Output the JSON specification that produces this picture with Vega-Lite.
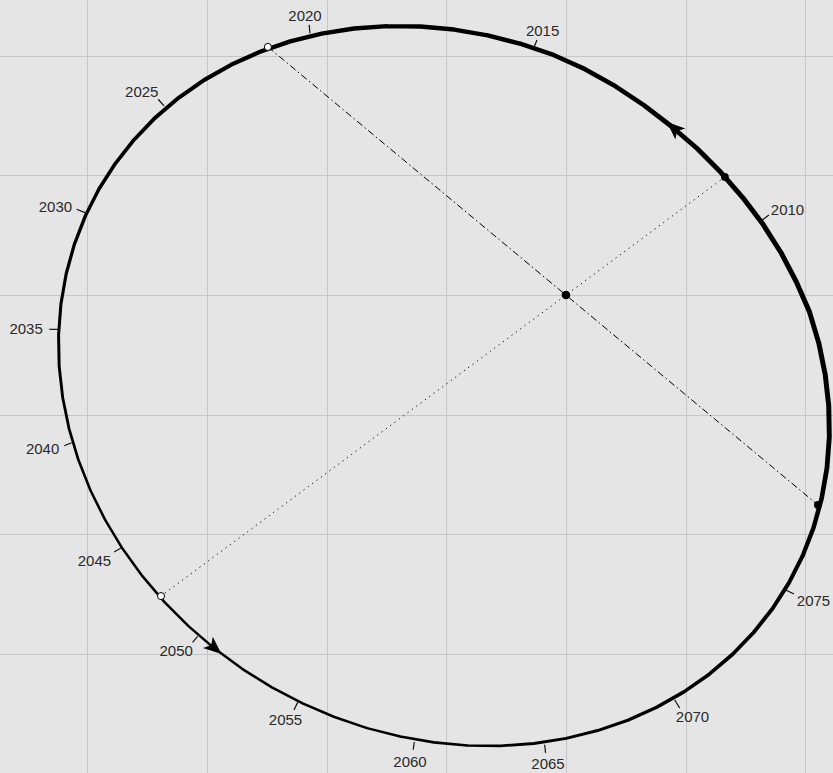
{
  "$schema": "https://vega.github.io/schema/vega-lite/v6.json",
  "width": 833,
  "height": 773,
  "autosize": {"type": "fit", "contains": "padding"},
  "padding": 0,
  "background": "#e5e5e5",
  "config": {
    "view": {"stroke": null},
    "axis": {"grid": true, "gridColor": "#c6c6c6", "gridWidth": 1, "labels": false, "ticks": false, "domain": false, "title": null}
  },
  "datasets": {
    "orbit": [
      {"i":0,"x":1.8628,"y":-2.4054,"weight":0.80},
      {"i":1,"x":1.7265,"y":-2.6185,"weight":0.78},
      {"i":2,"x":1.5694,"y":-2.8176,"weight":0.76},
      {"i":3,"x":1.3926,"y":-3.0010,"weight":0.74},
      {"i":4,"x":1.1974,"y":-3.1673,"weight":0.72},
      {"i":5,"x":0.9854,"y":-3.3153,"weight":0.70},
      {"i":6,"x":0.7580,"y":-3.4439,"weight":0.68},
      {"i":7,"x":0.5172,"y":-3.5520,"weight":0.65},
      {"i":8,"x":0.2646,"y":-3.6389,"weight":0.62},
      {"i":9,"x":0.0024,"y":-3.7038,"weight":0.60},
      {"i":10,"x":-0.2677,"y":-3.7464,"weight":0.58},
      {"i":11,"x":-0.5435,"y":-3.7663,"weight":0.56},
      {"i":12,"x":-0.8229,"y":-3.7632,"weight":0.54},
      {"i":13,"x":-1.1038,"y":-3.7373,"weight":0.52},
      {"i":14,"x":-1.3841,"y":-3.6888,"weight":0.51},
      {"i":15,"x":-1.6616,"y":-3.6179,"weight":0.50},
      {"i":16,"x":-1.9342,"y":-3.5254,"weight":0.50},
      {"i":17,"x":-2.1998,"y":-3.4117,"weight":0.50},
      {"i":18,"x":-2.4565,"y":-3.2779,"weight":0.50},
      {"i":19,"x":-2.7022,"y":-3.1249,"weight":0.50},
      {"i":20,"x":-2.9352,"y":-2.9540,"weight":0.50},
      {"i":21,"x":-3.1534,"y":-2.7663,"weight":0.50},
      {"i":22,"x":-3.3555,"y":-2.5634,"weight":0.50},
      {"i":23,"x":-3.5398,"y":-2.3467,"weight":0.50},
      {"i":24,"x":-3.7049,"y":-2.1180,"weight":0.50},
      {"i":25,"x":-3.8497,"y":-1.8789,"weight":0.50},
      {"i":26,"x":-3.9727,"y":-1.6314,"weight":0.51},
      {"i":27,"x":-4.0734,"y":-1.3772,"weight":0.53},
      {"i":28,"x":-4.1508,"y":-1.1183,"weight":0.55},
      {"i":29,"x":-4.2044,"y":-0.8566,"weight":0.57},
      {"i":30,"x":-4.2338,"y":-0.5943,"weight":0.59},
      {"i":31,"x":-4.2386,"y":-0.3331,"weight":0.60},
      {"i":32,"x":-4.2190,"y":-0.0753,"weight":0.62},
      {"i":33,"x":-4.1750,"y":0.1774,"weight":0.64},
      {"i":34,"x":-4.1070,"y":0.4228,"weight":0.66},
      {"i":35,"x":-4.0155,"y":0.6593,"weight":0.68},
      {"i":36,"x":-3.9012,"y":0.8850,"weight":0.70},
      {"i":37,"x":-3.7649,"y":1.0981,"weight":0.72},
      {"i":38,"x":-3.6078,"y":1.2972,"weight":0.75},
      {"i":39,"x":-3.4310,"y":1.4806,"weight":0.78},
      {"i":40,"x":-3.2358,"y":1.6469,"weight":0.80},
      {"i":41,"x":-3.0238,"y":1.7949,"weight":0.82},
      {"i":42,"x":-2.7964,"y":1.9235,"weight":0.84},
      {"i":43,"x":-2.5556,"y":2.0316,"weight":0.85},
      {"i":44,"x":-2.3030,"y":2.1185,"weight":0.86},
      {"i":45,"x":-2.0408,"y":2.1834,"weight":0.86},
      {"i":46,"x":-1.7707,"y":2.2260,"weight":0.87},
      {"i":47,"x":-1.4949,"y":2.2459,"weight":0.88},
      {"i":48,"x":-1.2155,"y":2.2428,"weight":0.88},
      {"i":49,"x":-0.9346,"y":2.2169,"weight":0.89},
      {"i":50,"x":-0.6543,"y":2.1684,"weight":0.90},
      {"i":51,"x":-0.3768,"y":2.0975,"weight":0.90},
      {"i":52,"x":-0.1042,"y":2.0050,"weight":0.91},
      {"i":53,"x":0.1590,"y":1.8860,"weight":0.92},
      {"i":54,"x":0.4109,"y":1.7449,"weight":0.93},
      {"i":55,"x":0.6503,"y":1.5856,"weight":0.94},
      {"i":56,"x":0.8776,"y":1.4117,"weight":0.96},
      {"i":57,"x":1.0937,"y":1.2258,"weight":0.97},
      {"i":58,"x":1.2937,"y":1.0250,"weight":0.98},
      {"i":59,"x":1.4787,"y":0.8120,"weight":1.0},
      {"i":60,"x":1.6477,"y":0.5881,"weight":1.0},
      {"i":61,"x":1.7971,"y":0.3529,"weight":1.0},
      {"i":62,"x":1.9254,"y":0.1084,"weight":1.0},
      {"i":63,"x":2.0350,"y":-0.1432,"weight":1.0},
      {"i":64,"x":2.1124,"y":-0.4021,"weight":1.0},
      {"i":65,"x":2.1660,"y":-0.6638,"weight":1.0},
      {"i":66,"x":2.1954,"y":-0.9261,"weight":1.0},
      {"i":67,"x":2.2002,"y":-1.1873,"weight":0.98},
      {"i":68,"x":2.1806,"y":-1.4451,"weight":0.96},
      {"i":69,"x":2.1366,"y":-1.6978,"weight":0.92},
      {"i":70,"x":2.0686,"y":-1.9432,"weight":0.88},
      {"i":71,"x":1.9771,"y":-2.1797,"weight":0.84},
      {"i":72,"x":1.8628,"y":-2.4054,"weight":0.80}
    ],
    "years": [
      {"year":"2010","x":1.625,"y":0.615,"x2":1.696,"y2":0.668,"lx":1.851,"ly":0.710},
      {"year":"2015","x":-0.270,"y":2.061,"x2":-0.242,"y2":2.130,"lx":-0.195,"ly":2.208},
      {"year":"2020","x":-2.139,"y":2.186,"x2":-2.145,"y2":2.256,"lx":-2.180,"ly":2.333},
      {"year":"2025","x":-3.358,"y":1.579,"x2":-3.406,"y2":1.635,"lx":-3.544,"ly":1.698},
      {"year":"2030","x":-4.018,"y":0.688,"x2":-4.088,"y2":0.716,"lx":-4.265,"ly":0.733},
      {"year":"2035","x":-4.241,"y":-0.287,"x2":-4.317,"y2":-0.287,"lx":-4.510,"ly":-0.287},
      {"year":"2040","x":-4.130,"y":-1.234,"x2":-4.191,"y2":-1.259,"lx":-4.372,"ly":-1.284},
      {"year":"2045","x":-3.707,"y":-2.108,"x2":-3.774,"y2":-2.147,"lx":-3.939,"ly":-2.220},
      {"year":"2050","x":-3.077,"y":-2.851,"x2":-3.119,"y2":-2.901,"lx":-3.256,"ly":-2.977},
      {"year":"2055","x":-2.241,"y":-3.403,"x2":-2.272,"y2":-3.467,"lx":-2.343,"ly":-3.553},
      {"year":"2060","x":-1.267,"y":-3.734,"x2":-1.276,"y2":-3.799,"lx":-1.303,"ly":-3.901},
      {"year":"2065","x":-0.178,"y":-3.757,"x2":-0.170,"y2":-3.826,"lx":-0.150,"ly":-3.918},
      {"year":"2070","x":0.908,"y":-3.381,"x2":0.950,"y2":-3.450,"lx":1.057,"ly":-3.525},
      {"year":"2075","x":1.832,"y":-2.462,"x2":1.905,"y2":-2.498,"lx":2.068,"ly":-2.559}
    ],
    "chords": [
      {"kind":"dashdot","x":-2.490,"y":2.072,"x2":2.105,"y2":-1.754},
      {"kind":"dotted","x":1.328,"y":0.986,"x2":-3.383,"y2":-2.515}
    ],
    "points": [
      {"kind":"centre","x":0,"y":0},
      {"kind":"filled","x":2.105,"y":-1.754},
      {"kind":"filled","x":1.328,"y":0.986},
      {"kind":"open","x":-2.490,"y":2.072},
      {"kind":"open","x":-3.383,"y":-2.515}
    ],
    "arrows": [
      {"x":0.906,"y":1.389,"heading":311.6},
      {"x":-2.941,"y":-2.945,"heading":130.9}
    ]
  },
  "encoding": {
    "x": {"field": "x", "type": "quantitative", "scale": {"domain": [-4.728, 2.231], "nice": false, "zero": false}, "axis": {"values": [-4, -3, -2, -1, 0, 1, 2]}},
    "y": {"field": "y", "type": "quantitative", "scale": {"domain": [-3.993, 2.464], "nice": false, "zero": false}, "axis": {"values": [-3, -2, -1, 0, 1, 2]}}
  },
  "layer": [
    {
      "data": {"name": "chords"},
      "transform": [{"filter": "datum.kind === 'dashdot'"}],
      "mark": {"type": "rule", "color": "#000000", "strokeWidth": 1, "strokeDash": [7, 3, 1.5, 3]},
      "encoding": {"x2": {"field": "x2"}, "y2": {"field": "y2"}}
    },
    {
      "data": {"name": "chords"},
      "transform": [{"filter": "datum.kind === 'dotted'"}],
      "mark": {"type": "rule", "color": "#000000", "strokeWidth": 1, "strokeDash": [1.2, 4.2]},
      "encoding": {"x2": {"field": "x2"}, "y2": {"field": "y2"}}
    },
    {
      "data": {"name": "orbit"},
      "mark": {"type": "trail", "color": "#000000"},
      "encoding": {
        "order": {"field": "i", "type": "quantitative"},
        "size": {"field": "weight", "type": "quantitative", "scale": {"domain": [0, 1], "range": [0, 5]}, "legend": null}
      }
    },
    {
      "data": {"name": "years"},
      "mark": {"type": "rule", "color": "#111111", "strokeWidth": 1.2},
      "encoding": {"x2": {"field": "x2"}, "y2": {"field": "y2"}}
    },
    {
      "data": {"name": "years"},
      "mark": {"type": "text", "font": "Liberation Sans", "fontSize": 15, "color": "#2a2a2a", "align": "center", "baseline": "middle"},
      "encoding": {
        "x": {"field": "lx", "type": "quantitative"},
        "y": {"field": "ly", "type": "quantitative"},
        "text": {"field": "year"}
      }
    },
    {
      "data": {"name": "points"},
      "transform": [{"filter": "datum.kind === 'centre'"}],
      "mark": {"type": "point", "shape": "circle", "filled": true, "color": "#000000", "size": 75, "opacity": 1}
    },
    {
      "data": {"name": "points"},
      "transform": [{"filter": "datum.kind === 'filled'"}],
      "mark": {"type": "point", "shape": "circle", "filled": true, "color": "#000000", "size": 60, "opacity": 1}
    },
    {
      "data": {"name": "points"},
      "transform": [{"filter": "datum.kind === 'open'"}],
      "mark": {"type": "point", "shape": "circle", "filled": true, "fill": "#ffffff", "stroke": "#000000", "strokeWidth": 1, "size": 50, "opacity": 1}
    },
    {
      "data": {"name": "arrows"},
      "mark": {"type": "point", "shape": "M0,-1L0.75,0.8L0,0.35L-0.75,0.8Z", "filled": true, "color": "#000000", "size": 400, "opacity": 1},
      "encoding": {"angle": {"field": "heading", "type": "quantitative", "scale": null}}
    }
  ]
}
